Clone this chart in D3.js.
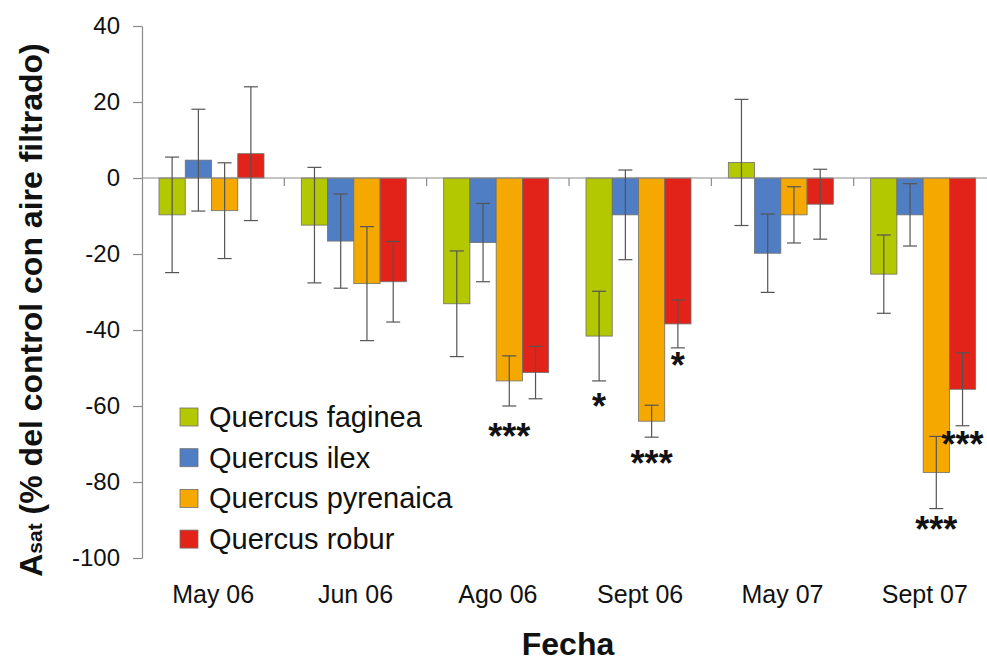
<!DOCTYPE html>
<html>
<head>
<meta charset="utf-8">
<script src="https://cdn.jsdelivr.net/npm/d3@7"></script>
<style>
  body { margin: 0; background: #fff; }
  svg { display: block; font-family: "Liberation Sans", Arial, sans-serif; }
</style>
</head>
<body>
<div id="chart"></div>
<script>
const fechas = ["May 06", "Jun 06", "Ago 06", "Sept 06", "May 07", "Sept 07"];
const especies = ["Quercus faginea", "Quercus ilex", "Quercus pyrenaica", "Quercus robur"];
const colores = ["#b3c800", "#4f7ec4", "#f5a900", "#e2231a"];

// mean value per species, one entry per fecha
const faginea   = [-9.7, -12.4, -33.1, -41.6,   4.1, -25.3];
const ilex      = [ 4.7, -16.6, -17.0,  -9.7, -19.8,  -9.7];
const pyrenaica = [-8.6, -27.8, -53.4, -64.0,  -9.7, -77.5];
const robur     = [ 6.4, -27.3, -51.2, -38.4,  -6.9, -55.6];

// error bar half-widths (approx.)
const errFaginea   = [15.2, 15.2, 13.9, 11.8, 16.6, 10.3];
const errIlex      = [13.4, 12.4, 10.3, 11.8, 10.3,  8.2];
const errPyrenaica = [12.6, 15.0,  6.6,  4.2,  7.4,  9.5];
const errRobur     = [17.6, 10.6,  6.9,  6.3,  9.2,  9.6];

// significance marks: [fecha, especie, text, y value]
const marcas = [
  ["Ago 06", "Quercus pyrenaica", "***", -66.3],
  ["Sept 06", "Quercus faginea", "*", -58.4],
  ["Sept 06", "Quercus pyrenaica", "***", -73.4],
  ["Sept 06", "Quercus robur", "*", -47.6],
  ["Sept 07", "Quercus pyrenaica", "***", -90.8],
  ["Sept 07", "Quercus robur", "***", -68.4]
];

const yTicks = [40, 20, 0, -20, -40, -60, -80, -100];

const valores = [faginea, ilex, pyrenaica, robur];
const errores = [errFaginea, errIlex, errPyrenaica, errRobur];

const W = 987, H = 661;
const pLeft = 142, pRight = 996, pTop = 26, pBottom = 558;

const svg = d3.select("#chart").append("svg")
  .attr("width", W)
  .attr("height", H);

const x0 = d3.scaleBand().domain(fechas).range([pLeft, pRight]).padding(0);
const x1 = d3.scaleBand().domain(especies).range([17, 122]).padding(0);
const y = d3.scaleLinear().domain([-100, 40]).range([pBottom, pTop]);
const color = d3.scaleOrdinal().domain(especies).range(colores);

const data = [];
fechas.forEach((f, i) => {
  especies.forEach((e, j) => {
    data.push({ fecha: f, especie: e, value: valores[j][i], err: errores[j][i] });
  });
});

// y axis
const yAxis = svg.append("g")
  .attr("transform", `translate(${pLeft},0)`)
  .call(d3.axisLeft(y).tickValues(yTicks).tickFormat(d => String(d))
    .tickSize(9).tickSizeOuter(0).tickPadding(13));
yAxis.select(".domain").attr("stroke", "#8a8a8a").attr("stroke-width", 1.2);
yAxis.selectAll(".tick line").attr("stroke", "#8a8a8a").attr("stroke-width", 1.2);
yAxis.selectAll("text")
  .style("font-size", "24px")
  .style("fill", "#111")
  .style("font-family", "'Liberation Sans', Arial, sans-serif");

// bars
svg.selectAll(".bar")
  .data(data)
  .enter()
  .append("rect")
  .attr("class", "bar")
  .attr("x", d => x0(d.fecha) + x1(d.especie))
  .attr("y", d => y(Math.max(0, d.value)))
  .attr("width", x1.bandwidth())
  .attr("height", d => Math.abs(y(d.value) - y(0)))
  .attr("fill", d => color(d.especie))
  .attr("stroke", "#6f6f6f")
  .attr("stroke-width", 0.8);

// zero line
svg.append("line")
  .attr("x1", pLeft).attr("x2", W)
  .attr("y1", y(0)).attr("y2", y(0))
  .attr("stroke", "#8a8a8a")
  .attr("stroke-width", 1.2);

// category separators on the zero line
svg.selectAll(".sep")
  .data(fechas.slice(1))
  .enter()
  .append("line")
  .attr("x1", d => x0(d)).attr("x2", d => x0(d))
  .attr("y1", y(0)).attr("y2", y(0) + 8)
  .attr("stroke", "#8a8a8a")
  .attr("stroke-width", 1.2);

// error bars
const eb = svg.selectAll(".err")
  .data(data)
  .enter()
  .append("g")
  .attr("class", "err")
  .attr("transform", d => `translate(${x0(d.fecha) + x1(d.especie) + x1.bandwidth() / 2},0)`)
  .attr("stroke", "#555")
  .attr("stroke-width", 1.2);

eb.append("line")
  .attr("y1", d => y(d.value + d.err))
  .attr("y2", d => y(d.value - d.err));
eb.append("line")
  .attr("x1", -7).attr("x2", 7)
  .attr("y1", d => y(d.value + d.err)).attr("y2", d => y(d.value + d.err));
eb.append("line")
  .attr("x1", -7).attr("x2", 7)
  .attr("y1", d => y(d.value - d.err)).attr("y2", d => y(d.value - d.err));

// significance stars
svg.selectAll(".star")
  .data(marcas)
  .enter()
  .append("text")
  .attr("class", "star")
  .attr("x", d => x0(d[0]) + x1(d[1]) + x1.bandwidth() / 2)
  .attr("y", d => y(d[3]) + 19)
  .attr("text-anchor", "middle")
  .style("font-size", "36px")
  .style("font-weight", "bold")
  .style("fill", "#111")
  .text(d => d[2]);

// x axis labels
const xAxis = svg.append("g")
  .attr("transform", `translate(0,${pBottom})`)
  .call(d3.axisBottom(x0).tickSize(0).tickPadding(27));
xAxis.select(".domain").remove();
xAxis.selectAll("text")
  .style("font-size", "25px")
  .style("fill", "#111")
  .style("font-family", "'Liberation Sans', Arial, sans-serif");

// axis titles
svg.append("text")
  .attr("x", 568)
  .attr("y", 655)
  .attr("text-anchor", "middle")
  .style("font-size", "32px")
  .style("font-weight", "bold")
  .style("fill", "#111")
  .text("Fecha");

const yl = svg.append("text")
  .attr("transform", "translate(42,310) rotate(-90)")
  .attr("text-anchor", "middle")
  .style("font-size", "32px")
  .style("font-weight", "bold")
  .style("fill", "#111");
yl.append("tspan").text("A");
yl.append("tspan").style("font-size", "21px").text("sat");
yl.append("tspan").text(" (% del control con aire filtrado)");

// legend
const legend = svg.selectAll(".legend")
  .data(especies)
  .enter()
  .append("g")
  .attr("class", "legend")
  .attr("transform", (d, i) => `translate(180, ${417 + i * 40.7})`);

legend.append("rect")
  .attr("x", 0)
  .attr("y", -9)
  .attr("width", 18)
  .attr("height", 18)
  .attr("fill", d => color(d))
  .attr("stroke", "#6f6f6f")
  .attr("stroke-width", 0.8);

legend.append("text")
  .attr("x", 29)
  .attr("y", 10)
  .style("font-size", "29px")
  .style("fill", "#111")
  .text(d => d);
</script>
</body>
</html>
